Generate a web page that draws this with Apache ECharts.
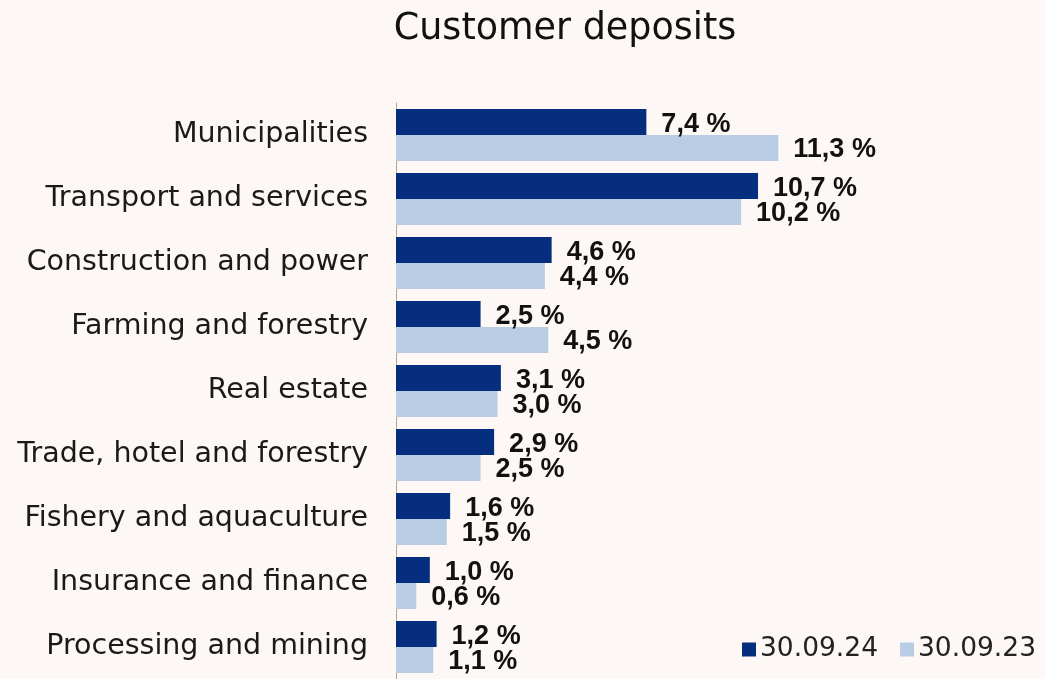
<!DOCTYPE html>
<html>
<head>
<meta charset="utf-8">
<script src="https://cdn.jsdelivr.net/npm/echarts@6/dist/echarts.min.js"></script>
<style>
  html, body { margin: 0; padding: 0; background: #fdf8f5; }
  #chart { width: 1045px; height: 679px; }
</style>
</head>
<body>
<div id="chart"></div>
<script>
// Sektorer (topp til bunn)
const categories = [
    "Municipalities",
    "Transport and services",
    "Construction and power",
    "Farming and forestry",
    "Real estate",
    "Trade, hotel and forestry",
    "Fishery and aquaculture",
    "Insurance and finance",
    "Processing and mining"
];
const seriesNames = ["30.09.24", "30.09.23"];
const values2024 = [7.4, 10.7, 4.6, 2.5, 3.1, 2.9, 1.6, 1.0, 1.2];
const values2023 = [11.3, 10.2, 4.4, 4.5, 3.0, 2.5, 1.5, 0.6, 1.1];

const colors = ["#052e7e", "#b8cde4"];

const labelStyle = {
    show: true,
    position: 'right',
    distance: 15,
    fontFamily: "Liberation Sans",
    fontWeight: 'bold',
    fontSize: 27,
    color: "#111",
    formatter: function (p) {
        return p.value.toFixed(1).replace('.', ',') + ' %';
    }
};

var chart = echarts.init(document.getElementById('chart'));
var option = {
    backgroundColor: "#fdf8f5",
    animation: false,
    title: {
        text: "Customer deposits",
        left: 560,
        top: 6,
        textAlign: 'center',
        textStyle: {
            fontFamily: "DejaVu Sans",
            fontWeight: 'normal',
            fontSize: 36.5,
            color: "#111"
        }
    },
    legend: {
        right: 4,
        bottom: 11,
        itemWidth: 14,
        itemHeight: 14,
        itemGap: 22,
        icon: 'rect',
        textStyle: { fontFamily: "DejaVu Sans", fontSize: 26.5, color: "#222", padding: [0, 0, 0, -1] },
        data: seriesNames
    },
    grid: { left: 396, right: 243, top: 103, bottom: -7, containLabel: false },
    xAxis: {
        type: 'value',
        min: 0,
        max: 12,
        show: false
    },
    yAxis: {
        type: 'category',
        inverse: true,
        data: categories,
        axisLine: { show: true, lineStyle: { color: "#a8a8a8", width: 1 } },
        axisTick: { show: false },
        axisLabel: {
            margin: 28,
            fontFamily: "DejaVu Sans",
            fontSize: 28.5,
            color: "#1a1a1a",
            padding: [4, 0, 0, 0]
        }
    },
    series: [{
        name: seriesNames[0],
        type: 'bar',
        data: values2024,
        barWidth: 26,
        barGap: '0%',
        itemStyle: { color: colors[0] },
        label: Object.assign({}, labelStyle, { offset: [0, 3] })
    }, {
        name: seriesNames[1],
        type: 'bar',
        data: values2023,
        barWidth: 26,
        barGap: '0%',
        itemStyle: { color: colors[1] },
        label: Object.assign({}, labelStyle, { offset: [0, 2] })
    }]
};
chart.setOption(option);
</script>
</body>
</html>
